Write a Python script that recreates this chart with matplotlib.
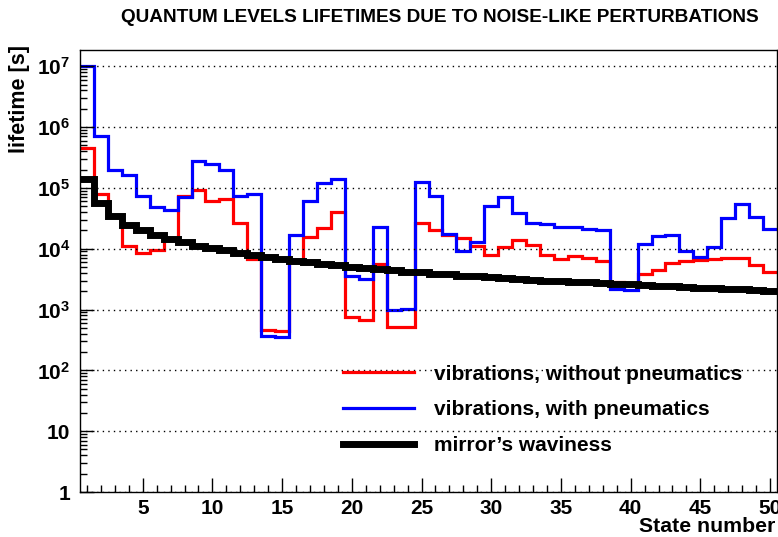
import numpy as np
import matplotlib
matplotlib.use("Agg")
import matplotlib.pyplot as plt
from matplotlib.lines import Line2D
from matplotlib.ticker import FixedLocator, FuncFormatter, MultipleLocator, NullFormatter

plt.rcParams['font.family'] = ['Liberation Sans', 'DejaVu Sans']
plt.rcParams['font.weight'] = 'bold'
plt.rcParams['mathtext.fontset'] = 'custom'
plt.rcParams['mathtext.rm'] = 'Liberation Sans:bold'
plt.rcParams['mathtext.bf'] = 'Liberation Sans:bold'

# state numbers 1..50, one bin per state
states = np.arange(1, 51)

# lifetimes [s]
vib_no_pneu = [4.6e5, 7.8e4, 3.4e4, 1.1e4, 8.5e3, 9.4e3, 1.45e4, 7.4e4, 9.2e4, 6.0e4,
               6.5e4, 2.6e4, 6.8e3, 4.6e2, 4.4e2, 6.0e3, 1.56e4, 2.2e4, 4.0e4, 7.6e2,
               6.8e2, 5.6e3, 5.2e2, 5.2e2, 2.6e4, 2.0e4, 1.7e4, 1.5e4, 1.09e4, 8.0e3,
               1.07e4, 1.37e4, 1.16e4, 8.0e3, 6.9e3, 7.5e3, 7.0e3, 6.4e3, 2.8e3, 2.7e3,
               3.9e3, 4.4e3, 5.9e3, 6.4e3, 6.5e3, 6.7e3, 7.0e3, 7.0e3, 5.3e3, 4.2e3]

vib_pneu = [1.0e7, 7.2e5, 2.0e5, 1.64e5, 7.4e4, 4.8e4, 4.4e4, 7.0e4, 2.8e5, 2.45e5,
            2.0e5, 7.4e4, 8.0e4, 3.7e2, 3.55e2, 1.7e4, 6.1e4, 1.2e5, 1.42e5, 3.5e3,
            3.2e3, 2.3e4, 1.0e3, 1.02e3, 1.26e5, 7.4e4, 1.76e4, 9.0e3, 1.3e4, 5.1e4,
            7.1e4, 3.85e4, 2.6e4, 2.55e4, 2.24e4, 2.27e4, 2.1e4, 2.0e4, 2.2e3, 2.1e3,
            1.2e4, 1.6e4, 1.65e4, 9.0e3, 7.2e3, 1.08e4, 3.2e4, 5.5e4, 3.3e4, 2.1e4]

waviness = [1.4e5, 5.6e4, 3.4e4, 2.5e4, 2.05e4, 1.7e4, 1.46e4, 1.29e4, 1.1e4, 1.03e4,
            9.4e3, 8.6e3, 7.9e3, 7.3e3, 6.8e3, 6.4e3, 6.0e3, 5.7e3, 5.4e3, 5.1e3,
            4.9e3, 4.6e3, 4.4e3, 4.2e3, 4.1e3, 3.9e3, 3.8e3, 3.6e3, 3.5e3, 3.4e3,
            3.3e3, 3.2e3, 3.1e3, 3.0e3, 2.95e3, 2.85e3, 2.8e3, 2.7e3, 2.65e3, 2.6e3,
            2.5e3, 2.45e3, 2.4e3, 2.35e3, 2.3e3, 2.25e3, 2.2e3, 2.15e3, 2.1e3, 2.05e3]

labels = ["vibrations, without pneumatics",
          "vibrations, with pneumatics",
          "mirror\u2019s waviness"]

x_ticks = [5, 10, 15, 20, 25, 30, 35, 40, 45, 50]
y_ticks = [1, 1e1, 1e2, 1e3, 1e4, 1e5, 1e6, 1e7]

edges = np.append(states - 0.5, states[-1] + 0.5)

fig = plt.figure(figsize=(7.78, 5.37), dpi=100)
ax = fig.add_axes([80 / 778, 1 - 492 / 537, 697 / 778, 442 / 537])

ax.stairs(vib_no_pneu, edges, baseline=None, color='#ff0000', lw=2.3)
ax.stairs(vib_pneu, edges, baseline=None, color='#0000ff', lw=2.3)
ax.stairs(waviness, edges, baseline=None, color='black', lw=5)

ax.set_yscale('log')
ax.set_xlim(0.5, 50.5)
ax.set_ylim(1, 1.85e7)

# minor ticks 2..9 in every decade
minor_y = [m * 10.0 ** d for d in range(0, 8) for m in range(2, 10) if m * 10.0 ** d < 1.85e7]
ax.yaxis.set_major_locator(FixedLocator(y_ticks))
ax.yaxis.set_minor_locator(FixedLocator(minor_y))
ax.yaxis.set_minor_formatter(NullFormatter())


def ylab(v, pos):
    e = int(round(np.log10(v)))
    if e == 0:
        return '1'
    if e == 1:
        return '10'
    return r'$\mathbf{10^{%d}}$' % e


ax.yaxis.set_major_formatter(FuncFormatter(ylab))
ax.xaxis.set_major_locator(FixedLocator(x_ticks))
ax.xaxis.set_minor_locator(MultipleLocator(1))

ax.tick_params(which='both', direction='in', labelsize=15, width=1)
ax.tick_params(which='major', length=10)
ax.tick_params(which='minor', length=5)
ax.tick_params(axis='y', pad=7)
ax.tick_params(axis='x', pad=5)
for lab in ax.get_xticklabels() + ax.get_yticklabels():
    lab.set_fontweight('bold')

ax.grid(axis='y', which='major', color='black', linestyle=(0, (1, 3)), lw=1)
for s in ax.spines.values():
    s.set_linewidth(1)

handles = [Line2D([], [], color='#ff0000', lw=2.3),
           Line2D([], [], color='#0000ff', lw=2.3),
           Line2D([], [], color='black', lw=5)]
fig.legend(handles, labels, loc='upper left',
           bbox_to_anchor=(324 / 778, 1 - 346 / 537), frameon=False,
           prop={'size': 15, 'weight': 'bold'}, handlelength=3.4,
           handletextpad=1.0, labelspacing=0.8)

fig.text(440 / 778, 1 - 18 / 537,
         "QUANTUM LEVELS LIFETIMES DUE TO NOISE-LIKE PERTURBATIONS",
         ha='center', va='center', fontsize=13.7, fontweight='bold')
fig.text(20 / 778, 1 - 45 / 537, "lifetime [s]", rotation=90,
         ha='center', va='top', fontsize=15.5, fontweight='bold')
fig.text(775 / 778, 1 - 527 / 537, "State number",
         ha='right', va='center', fontsize=15.3, fontweight='bold')

fig.savefig('out.png', dpi=100)
